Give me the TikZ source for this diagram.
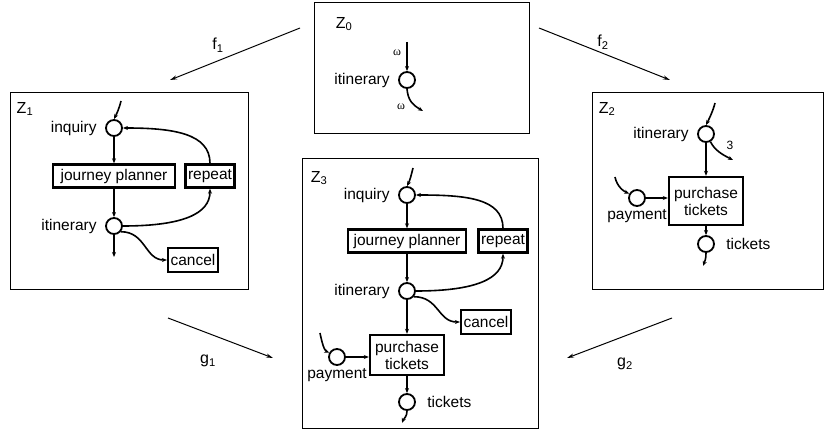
\documentclass[tikz,border=0pt]{standalone}
\usepackage{fontspec}
\setmainfont{Liberation Sans}
\newfontfamily\greekserif{Liberation Serif}
\usetikzlibrary{arrows.meta}
\begin{document}
\begin{tikzpicture}[x=1pt,y=-1pt,
    font=\fontsize{15.5}{17}\selectfont,
    frame/.style={draw,line width=0.8pt},
    place/.style={circle,draw,line width=1.8pt,minimum size=16pt,inner sep=0pt},
    trans/.style={draw,line width=2.4pt,inner ysep=0pt,inner xsep=2.5pt,align=center},
    arc/.style={line width=1.6pt,-{Stealth[length=5pt,width=4pt]}},
    map/.style={line width=1pt,-{Stealth[length=7pt,width=4pt]}},
    zlab/.style={font=\fontsize{16}{18}\selectfont},
    omega/.style={font=\greekserif\fontsize{12}{12}\selectfont}]
  \useasboundingbox (0,0) rectangle (825,443);
  % frames
  \draw[frame] (314,2) rectangle (529,133);
  \draw[frame] (10,92) rectangle (248,289);
  \draw[frame] (592,92) rectangle (823,289);
  \draw[frame] (302,158) rectangle (538,428);
  \node[zlab] (z0) at (344,24) {Z\textsubscript{0}};
  \node[zlab] (z1) at (25,109) {Z\textsubscript{1}};
  \node[zlab] (z2) at (607,109) {Z\textsubscript{2}};
  \node[zlab] (z3) at (319,178) {Z\textsubscript{3}};
  % Z0
  \node[place,label={[label distance=5pt]left:itinerary}] (it0) at (407,80) {};
  \coordinate (in0) at (407,42);
  \coordinate (out0) at (423,111);
  \node[omega] (w0) at (397,53) {ω};
  \node[omega] (w1) at (401,107) {ω};
  \draw[arc] (in0) -- (it0);
  \draw[arc] (it0.south) .. controls +(1,12) and +(-10,-6) .. (out0);
  % Z1
  \node[place,label={[label distance=5pt]left:inquiry}] (inq1) at (114,128) {};
  \node[trans,minimum width=122pt,minimum height=23pt] (plan1) at (114,176) {journey planner};
  \node[trans,minimum width=47pt,minimum height=23pt] (rep1) at (210,176) {repeat};
  \node[place,label={[label distance=5pt]left:itinerary}] (itin1) at (114,226) {};
  \node[trans,minimum width=47pt,minimum height=24pt] (canc1) at (193,260) {cancel};
  \coordinate (src1) at (121,101);
  \coordinate (end1) at (114,257);
  \draw[arc] (src1) .. controls +(-2,8) and +(3,-6) .. (inq1.north);
  \draw[arc] (inq1) -- (plan1);
  \draw[arc] (plan1) -- (itin1);
  \draw[arc] (itin1.east) .. controls +(60,0) and +(0,25) .. (rep1.south);
  \draw[arc] (rep1.north) .. controls +(0,-30) and +(50,0) .. (inq1.east);
  \draw[arc] (itin1.-40) .. controls +(25,0) and +(-22,0) .. (canc1.west);
  \draw[arc] (itin1) -- (end1);
  % Z2
  \node[place,label={[label distance=5pt]left:itinerary}] (itin2) at (706,134) {};
  \node[trans,minimum width=74pt,minimum height=48pt] (buy2) at (706,201) {purchase\\tickets};
  \node[place,label={[label distance=-1pt]below:payment}] (pay2) at (637,198) {};
  \node[place,label={[label distance=8pt]right:tickets}] (tick2) at (706,244) {};
  \node[font=\fontsize{12}{12}\selectfont] (n3) at (730,145) {3};
  \coordinate (src2) at (715,103);
  \coordinate (out2) at (733,160);
  \coordinate (paysrc2) at (615,177);
  \coordinate (end2) at (703,266);
  \draw[arc] (src2) .. controls +(-2,8) and +(3,-6) .. (itin2.north);
  \draw[arc] (itin2.-60) .. controls +(4,8) and +(-12,-6) .. (out2);
  \draw[arc] (itin2) -- (buy2);
  \draw[arc] (paysrc2) .. controls +(2,10) and +(-5,-2) .. (pay2.150);
  \draw[arc] (pay2) -- (pay2 -| buy2.west);
  \draw[arc] (buy2) -- (tick2);
  \draw[arc] (tick2.south) .. controls +(0,6) and +(2,-5) .. (end2);
  % Z3
  \node[place,label={[label distance=5pt]left:inquiry}] (inq3) at (407,195) {};
  \node[trans,minimum width=118pt,minimum height=23pt] (plan3) at (407,241) {journey planner};
  \node[trans,minimum width=47pt,minimum height=23pt] (rep3) at (503,241) {repeat};
  \node[place,label={[label distance=5pt]left:itinerary}] (itin3) at (407,291) {};
  \node[trans,minimum width=46pt,minimum height=24pt] (canc3) at (486,322) {cancel};
  \node[trans,minimum width=74pt,minimum height=40pt] (buy3) at (407,355) {purchase\\tickets};
  \node[place,label={[label distance=-1pt]below:payment}] (pay3) at (337,357) {};
  \node[place,label={[label distance=8pt]right:tickets}] (tick3) at (407,402) {};
  \coordinate (src3) at (413,168);
  \coordinate (paysrc3) at (320,333);
  \coordinate (end3) at (402,423);
  \draw[arc] (src3) .. controls +(-2,8) and +(3,-6) .. (inq3.north);
  \draw[arc] (inq3) -- (plan3);
  \draw[arc] (plan3) -- (itin3);
  \draw[arc] (itin3.east) .. controls +(60,0) and +(0,25) .. (rep3.south);
  \draw[arc] (rep3.north) .. controls +(0,-30) and +(50,0) .. (inq3.east);
  \draw[arc] (itin3.-40) .. controls +(25,0) and +(-22,0) .. (canc3.west);
  \draw[arc] (itin3) -- (buy3);
  \draw[arc] (paysrc3) .. controls +(2,10) and +(-5,-2) .. (pay3.150);
  \draw[arc] (pay3) -- (pay3 -| buy3.west);
  \draw[arc] (buy3) -- (tick3);
  \draw[arc] (tick3.south) .. controls +(0,6) and +(2,-5) .. (end3);
  % maps between the nets
  \coordinate (f1a) at (300,28);
  \coordinate (f1b) at (170,80);
  \coordinate (f2a) at (539,28);
  \coordinate (f2b) at (670,80);
  \coordinate (g1a) at (168,318);
  \coordinate (g1b) at (273,358);
  \coordinate (g2a) at (672,318);
  \coordinate (g2b) at (567,358);
  \draw[map] (f1a) -- (f1b);
  \draw[map] (f2a) -- (f2b);
  \draw[map] (g1a) -- (g1b);
  \draw[map] (g2a) -- (g2b);
  \node[zlab] (f1) at (218,45) {f\textsubscript{1}};
  \node[zlab] (f2) at (603,42) {f\textsubscript{2}};
  \node[zlab] (g1) at (208,361) {g\textsubscript{1}};
  \node[zlab] (g2) at (625,364) {g\textsubscript{2}};
\end{tikzpicture}
\end{document}
